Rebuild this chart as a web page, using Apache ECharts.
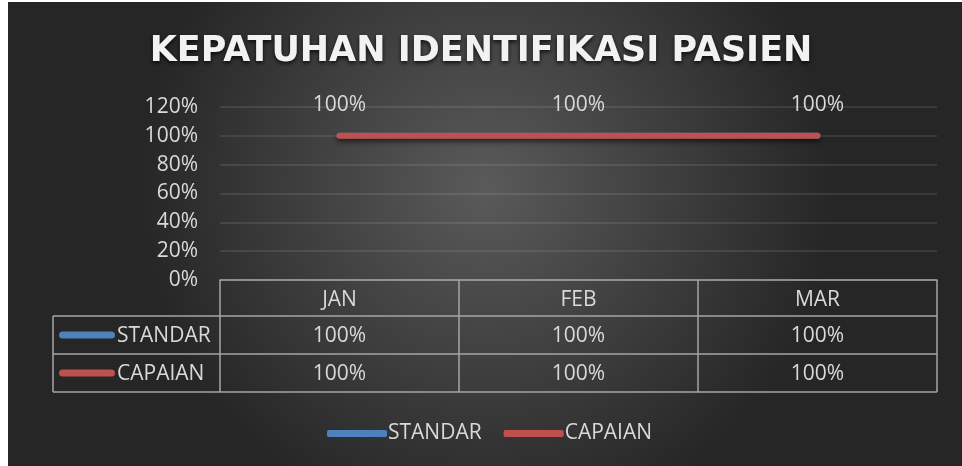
<!DOCTYPE html>
<html lang="id">
<head>
    <meta charset="UTF-8">
    <title>Kepatuhan Identifikasi Pasien</title>
    <style>
        html, body { margin: 0; padding: 0; background: #ffffff; }
        #chart { width: 962px; height: 466px; }
    </style>
</head>
<body>
<div id="chart"></div>
<script src="https://cdn.jsdelivr.net/npm/echarts@6/dist/echarts.min.js"></script>
<script>
    var months = ['JAN', 'FEB', 'MAR'];
    var standar = [1, 1, 1];
    var capaian = [1, 1, 1];
    var seriesNames = ['STANDAR', 'CAPAIAN'];
    var seriesColors = ['#4f81bd', '#c0504d'];

    var FONT = '"Open Sans", sans-serif';
    var TXT = '#d9d9d9';
    var LINE = '#a6a6a6';
    var FS = 21;

    function pct(v) { return Math.round(v * 100) + '%'; }

    var chart = echarts.init(document.getElementById('chart'));

    var option = {
        backgroundColor: '#ffffff',
        textStyle: { fontFamily: FONT },
        title: {
            text: 'KEPATUHAN IDENTIFIKASI PASIEN',
            left: 'center',
            top: 29,
            textStyle: {
                color: '#f2f2f2', fontSize: 35, fontWeight: 'bold', fontFamily: '"DejaVu Sans", sans-serif',
                textShadowColor: 'rgba(0,0,0,0.8)', textShadowBlur: 4, textShadowOffsetY: 2
            }
        },
        legend: {
            left: 322,
            top: 418,
            itemWidth: 60,
            itemHeight: 7,
            itemGap: 22,
            icon: 'roundRect',
            textStyle: { color: TXT, fontSize: FS, fontFamily: FONT, padding: [0, 0, 0, -4] },
            data: seriesNames
        },
        grid: { left: 220, right: 25, top: 107, bottom: 186 },
        xAxis: {
            type: 'category',
            data: months,
            axisLine: { show: true, lineStyle: { color: LINE, width: 1.5 } },
            axisTick: { show: false },
            axisLabel: { color: TXT, fontSize: FS, margin: 10 },
            splitLine: { show: false }
        },
        yAxis: {
            type: 'value',
            min: 0, max: 1.2, interval: 0.2,
            axisLine: { show: false },
            axisTick: { show: false },
            axisLabel: { color: TXT, fontSize: FS, margin: 22, formatter: pct },
            splitLine: { lineStyle: { color: 'rgba(255,255,255,0.13)', width: 1.5 } }
        },
        series: [
            {
                name: seriesNames[0], type: 'line', data: standar,
                color: seriesColors[0], symbol: 'none',
                lineStyle: { width: 6, cap: 'round', color: seriesColors[0] }
            },
            {
                name: seriesNames[1], type: 'line', data: capaian,
                color: seriesColors[1], symbol: 'circle', symbolSize: 0, showSymbol: true,
                lineStyle: {
                    width: 6, cap: 'round', color: seriesColors[1],
                    shadowColor: 'rgba(0,0,0,0.6)', shadowBlur: 5, shadowOffsetY: 3
                },
                label: {
                    show: true, position: 'top', distance: 20,
                    color: TXT, fontSize: FS, formatter: function (p) { return pct(p.value); }
                },
                labelLayout: { hideOverlap: false }
            }
        ]
    };
    chart.setOption(option);

    // panel background + data table under the x axis
    function buildTable() {
        var g = [];
        g.push({
            type: 'rect', z: -10, silent: true,
            shape: { x: 8, y: 2, width: 954, height: 464 },
            style: {
                fill: {
                    type: 'radial', x: 0.5, y: 0.4, r: 0.75,
                    colorStops: [
                        { offset: 0, color: '#5a5a5a' },
                        { offset: 1, color: '#262626' }
                    ]
                }
            }
        });

        var x0 = chart.convertToPixel({ xAxisIndex: 0 }, months[0]);
        var x1 = chart.convertToPixel({ xAxisIndex: 0 }, months[1]);
        var band = x1 - x0;
        var left = x0 - band / 2;
        var right = left + band * months.length;
        var top = chart.convertToPixel({ yAxisIndex: 0 }, 0);
        var rowH = 38;
        var headH = 36;
        var tableLeft = 53;
        var rows = [standar, capaian];
        var lineStyle = { stroke: LINE, lineWidth: 1.5 };

        function line(xa, ya, xb, yb) {
            g.push({ type: 'line', silent: true, shape: { x1: xa, y1: ya, x2: xb, y2: yb }, style: lineStyle });
        }

        // vertical lines for the category columns
        for (var i = 0; i <= months.length; i++) {
            line(left + band * i, top, left + band * i, top + headH + rowH * rows.length);
        }
        line(tableLeft, top + headH, tableLeft, top + headH + rowH * rows.length);
        for (var r = 0; r <= rows.length; r++) {
            line(tableLeft, top + headH + rowH * r, right, top + headH + rowH * r);
        }

        rows.forEach(function (vals, r) {
            var cy = top + headH + rowH * r + rowH / 2;
            g.push({
                type: 'rect', silent: true,
                shape: { x: 59, y: cy - 3.5, width: 56, height: 7, r: 3.5 },
                style: { fill: seriesColors[r] }
            });
            g.push({
                type: 'text', silent: true, x: 117, y: cy + 1.5,
                style: { text: seriesNames[r], fill: TXT, font: FS + 'px ' + FONT, verticalAlign: 'middle' }
            });
            vals.forEach(function (v, c) {
                g.push({
                    type: 'text', silent: true, x: left + band * c + band / 2, y: cy + 1.5,
                    style: { text: pct(v), fill: TXT, font: FS + 'px ' + FONT, align: 'center', verticalAlign: 'middle' }
                });
            });
        });
        chart.setOption({ graphic: g });
    }
    buildTable();
</script>
</body>
</html>
